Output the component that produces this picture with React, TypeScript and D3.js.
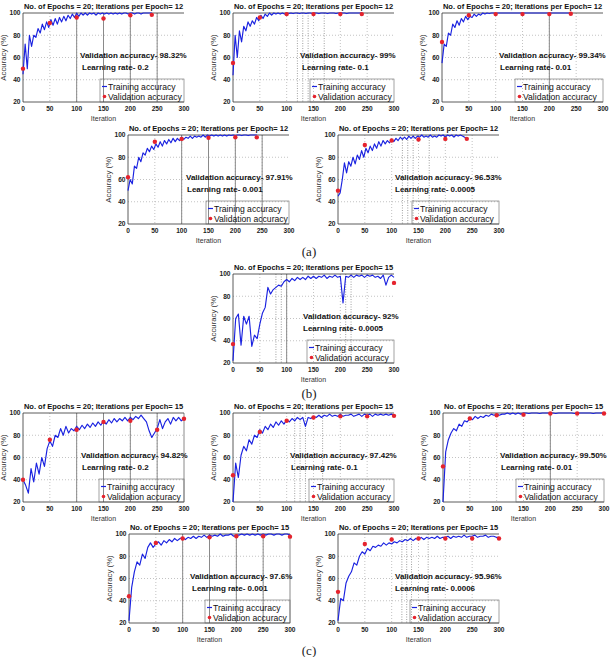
import React from 'react';
import * as d3 from 'd3';

const W = 615;
const H = 657;
const PW = 161;
const PH = 89;

// training accuracy, sampled every 4 iterations (12 iter/epoch runs) or every 5 (15 iter/epoch runs)
const trainA1 = [45, 72, 50, 80, 70, 80, 78, 86, 82, 90, 85, 92, 87, 94, 89, 95, 90, 96, 92, 97, 93, 98, 95, 99, 96, 100, 97, 100, 98, 100, 98, 100, 99, 100, 98, 100, 99, 100, 99, 100, 99, 100, 99, 100, 99, 100, 99, 100, 100, 99, 100, 100, 99, 100, 100, 99, 100, 100, 100, 100, 100];
const trainA2 = [44, 80, 60, 84, 74, 88, 84, 92, 88, 93, 90, 96, 93, 98, 95, 99, 97, 100, 98, 100, 99, 100, 99, 100, 99, 100, 99.5, 100, 99.5, 100, 100, 99.5, 100, 100, 99.5, 100, 100, 99.5, 100, 100, 99.5, 100, 100, 100, 99.5, 100, 100, 100, 99.5, 100, 100, 100, 100, 99.5, 100, 100, 100, 100, 100, 100, 100];
const trainA3 = [55, 72, 70, 82, 80, 90, 87, 93, 89, 95, 92, 97, 94, 97, 96, 99, 97, 99, 98, 100, 99, 100, 99.5, 100, 100, 99.5, 100, 100, 100, 100, 100, 100, 100, 100, 100, 100, 100, 100, 100, 100, 100, 100, 100, 100, 100, 100, 100, 100, 100, 100, 100, 100, 100, 100, 100, 100, 100, 100, 100, 100, 100];
const trainA4 = [50, 60, 56, 72, 70, 80, 76, 84, 82, 88, 85, 90, 87, 92, 89, 94, 90, 95, 92, 96, 93, 97, 94, 97, 95, 98, 96, 98, 97, 99, 97, 99, 98, 99, 98, 100, 98, 100, 99, 100, 99, 100, 99, 100, 99, 100, 99, 100, 99.5, 100, 99.5, 100, 100, 99.5, 100, 100, 99.5, 100, 100, 100, 100];
const trainA5 = [45, 48, 60, 75, 66, 76, 72, 80, 74, 82, 78, 86, 80, 88, 84, 90, 86, 92, 88, 94, 90, 95, 92, 95, 93, 96, 94, 97, 95, 98, 96, 98, 96, 99, 97, 99, 97, 99, 98, 100, 98, 99, 98, 100, 98, 99, 98, 100, 99, 100, 98, 100, 99, 100, 98, 100, 99, 100, 99, 98, 97];
const trainB = [22, 60, 64, 36, 62, 55, 62, 35, 45, 42, 55, 65, 70, 88, 82, 86, 88, 90, 89, 93, 95, 93, 96, 94, 97, 95, 97, 95, 98, 96, 98, 96, 98, 97, 99, 96, 98, 97, 99, 97, 98, 74, 98, 97, 99, 97, 99, 98, 99, 97, 99, 98, 99, 97, 98, 96, 99, 90, 97, 99, 97];
const trainC1 = [40, 35, 28, 50, 38, 55, 45, 60, 52, 68, 75, 70, 80, 78, 86, 80, 88, 82, 86, 84, 88, 85, 89, 86, 90, 87, 91, 88, 92, 89, 93, 90, 94, 91, 95, 92, 95, 93, 96, 93, 96, 94, 97, 95, 98, 95, 92, 84, 78, 82, 86, 94, 86, 92, 95, 90, 96, 93, 96, 93, 95];
const trainC2 = [20, 55, 42, 62, 70, 66, 76, 72, 80, 78, 85, 82, 88, 85, 90, 87, 92, 89, 93, 90, 94, 92, 95, 93, 96, 94, 96, 88, 96, 95, 97, 96, 98, 96, 98, 97, 99, 97, 98, 97, 99, 97, 98, 98, 99, 97, 98, 99, 97, 99, 98, 99, 97, 99, 98, 99, 98, 99, 98, 99, 98];
const trainC3 = [20, 65, 76, 82, 86, 84, 90, 88, 93, 92, 95, 94, 97, 95, 97, 96, 98, 97, 99, 98, 99, 98, 99, 99, 100, 99, 100, 99, 100, 99, 100, 100, 99.5, 100, 100, 100, 99.5, 100, 100, 100, 100, 100, 99.5, 100, 100, 100, 100, 100, 100, 99.5, 100, 100, 100, 100, 100, 100, 99.5, 100, 100, 100, 100];
const trainC4 = [22, 52, 66, 75, 72, 82, 78, 88, 92, 88, 91, 93, 90, 94, 92, 95, 93, 96, 94, 96, 97, 95, 97, 96, 98, 96, 98, 97, 99, 97, 99, 98, 99, 98, 100, 98, 99, 99, 100, 98, 99, 99, 100, 99, 100, 99, 100, 99, 100, 99, 100, 99, 100, 100, 99, 100, 100, 99, 100, 100, 99];
const trainC5 = [22, 42, 40, 56, 62, 66, 74, 72, 80, 84, 82, 87, 85, 89, 88, 90, 89, 92, 90, 92, 91, 93, 92, 94, 93, 95, 94, 96, 94, 96, 95, 97, 95, 97, 96, 97, 96, 98, 96, 97, 97, 98, 96, 98, 97, 98, 97, 99, 97, 98, 98, 99, 97, 98, 98, 99, 97, 98, 98, 97, 97];

// validation checkpoints
const valItersA = [0, 50, 100, 150, 200, 240];
const valItersB = [0, 300];
const valItersC = [0, 50, 100, 150, 200, 250, 300];
const valA1 = [50, 91, 96, 95, 98, 98.32];
const valA2 = [55, 96, 99, 99, 99, 99];
const valA3 = [74, 98, 99, 99, 99, 99.34];
const valA4 = [62, 94, 96.5, 97.5, 98, 97.91];
const valA5 = [50, 91, 95, 96, 96.5, 96.53];
const valB = [37, 92];
const valC1 = [40, 76, 85, 92, 93, 85, 94.82];
const valC2 = [44, 83, 93, 96, 97, 97, 97.42];
const valC3 = [52, 95, 98, 98.5, 99.5, 99.5, 99.5];
const valC4 = [44, 92, 96, 97, 98, 98, 97.6];
const valC5 = [48, 91, 95, 96, 96, 96, 95.96];

const xTicks = [0, 50, 100, 150, 200, 250, 300];
const yTicks = [20, 40, 60, 80, 100];
const gridX = [50, 100, 150, 200, 250];
const gridY = [40, 60, 80];

interface IPanel {
  left: number;
  top: number;
  perEpoch: number;
  train: number[];
  step: number;
  valIters: number[];
  val: number[];
  accText: string;
  lrText: string;
  annX: number;
  lrX: number;
  legX: number;
  solid: number[];
  dotted: number[];
}

const panels: IPanel[] = [
  { left: 23, top: 13, perEpoch: 12, train: trainA1, step: 4, valIters: valItersA, val: valA1, accText: 'Validation accuracy- 98.32%', lrText: 'Learning rate- 0.2', annX: 57, lrX: 59, legX: 85, solid: [100, 150, 200, 250], dotted: [] },
  { left: 233, top: 13, perEpoch: 12, train: trainA2, step: 4, valIters: valItersA, val: valA2, accText: 'Validation accuracy- 99%', lrText: 'Learning rate- 0.1', annX: 67, lrX: 69, legX: 85, solid: [], dotted: [120, 130, 140, 170] },
  { left: 442, top: 13, perEpoch: 12, train: trainA3, step: 4, valIters: valItersA, val: valA3, accText: 'Validation accuracy- 99.34%', lrText: 'Learning rate- 0.01', annX: 57, lrX: 58, legX: 81, solid: [200], dotted: [] },
  { left: 128, top: 135, perEpoch: 12, train: trainA4, step: 4, valIters: valItersA, val: valA4, accText: 'Validation accuracy- 97.91%', lrText: 'Learning rate- 0.001', annX: 58, lrX: 59, legX: 86, solid: [100, 150, 200, 250], dotted: [] },
  { left: 338, top: 135, perEpoch: 12, train: trainA5, step: 4, valIters: valItersA, val: valA5, accText: 'Validation accuracy- 96.53%', lrText: 'Learning rate- 0.0005', annX: 57, lrX: 57, legX: 82, solid: [], dotted: [120, 130, 140, 170] },
  { left: 233, top: 274, perEpoch: 15, train: trainB, step: 5, valIters: valItersB, val: valB, accText: 'Validation accuracy- 92%', lrText: 'Learning rate- 0.0005', annX: 70, lrX: 70, legX: 82, solid: [100], dotted: [80, 90, 210, 220] },
  { left: 23, top: 413, perEpoch: 15, train: trainC1, step: 5, valIters: valItersC, val: valC1, accText: 'Validation accuracy- 94.82%', lrText: 'Learning rate- 0.2', annX: 58, lrX: 59, legX: 84, solid: [100, 150, 200, 250, 300], dotted: [] },
  { left: 233, top: 413, perEpoch: 15, train: trainC2, step: 5, valIters: valItersC, val: valC2, accText: 'Validation accuracy- 97.42%', lrText: 'Learning rate- 0.1', annX: 57, lrX: 58, legX: 84, solid: [], dotted: [115, 125, 135, 167] },
  { left: 443, top: 413, perEpoch: 15, train: trainC3, step: 5, valIters: valItersC, val: valC3, accText: 'Validation accuracy- 99.50%', lrText: 'Learning rate- 0.01', annX: 57, lrX: 58, legX: 81, solid: [200], dotted: [] },
  { left: 129, top: 534, perEpoch: 15, train: trainC4, step: 5, valIters: valItersC, val: valC4, accText: 'Validation accuracy- 97.6%', lrText: 'Learning rate- 0.001', annX: 61, lrX: 63, legX: 84, solid: [100, 150, 200, 250, 300], dotted: [] },
  { left: 338, top: 534, perEpoch: 15, train: trainC5, step: 5, valIters: valItersC, val: valC5, accText: 'Validation accuracy- 95.96%', lrText: 'Learning rate- 0.0006', annX: 57, lrX: 57, legX: 80, solid: [], dotted: [119, 128, 137, 168] },
];

const captions = [
  { text: '(a)', y: 256 },
  { text: '(b)', y: 398 },
  { text: '(c)', y: 655 },
];

const FONT = '"Liberation Sans", Arial, sans-serif';
const BLUE = '#1a22e0';
const RED = '#e5232d';

const x = d3.scaleLinear().domain([0, 300]).range([0, PW]);
const y = d3.scaleLinear().domain([20, 100]).range([PH, 0]);

const Panel: React.FC<{ p: IPanel }> = ({ p }) => {
  const line = d3
    .line<number>()
    .x((_, i) => x(i * p.step))
    .y((d) => y(d));

  return (
    <g transform={`translate(${p.left},${p.top})`} fontFamily={FONT}>
      {gridX.map((t) => (
        <line key={'gx' + t} x1={x(t)} x2={x(t)} y1={0} y2={PH} stroke="#9a9a9a" strokeWidth={0.6} strokeDasharray="1,2" />
      ))}
      {gridY.map((t) => (
        <line key={'gy' + t} x1={0} x2={PW} y1={y(t)} y2={y(t)} stroke="#9a9a9a" strokeWidth={0.6} strokeDasharray="1,2" />
      ))}
      {p.dotted.map((t) => (
        <line key={'d' + t} x1={x(t)} x2={x(t)} y1={0} y2={PH} stroke="#777" strokeWidth={0.7} strokeDasharray="1,1.5" />
      ))}
      {p.solid.map((t) => (
        <line key={'s' + t} x1={x(t)} x2={x(t)} y1={0} y2={PH} stroke="#8a8a8a" strokeWidth={1} />
      ))}

      {/* axes frame */}
      <line x1={0} x2={PW} y1={0} y2={0} stroke="#333" strokeWidth={0.8} />
      <line x1={0} x2={0} y1={0} y2={PH} stroke="#333" strokeWidth={0.8} />
      <line x1={0} x2={PW} y1={PH} y2={PH} stroke="#333" strokeWidth={0.8} />

      <path d={line(p.train) || ''} fill="none" stroke={BLUE} strokeWidth={1.15} strokeLinejoin="round" />
      {p.val.map((v, i) => (
        <circle key={'v' + i} cx={x(p.valIters[i])} cy={y(v)} r={2.2} fill={RED} />
      ))}

      {xTicks.map((t) => (
        <text key={'xt' + t} x={x(t)} y={PH + 8.5} fontSize={6.6} fontWeight="bold" textAnchor="middle" fill="#222">
          {t}
        </text>
      ))}
      {yTicks.map((t) => (
        <text key={'yt' + t} x={-2.5} y={y(t) + 2.3} fontSize={6.6} fontWeight="bold" textAnchor="end" fill="#222">
          {t}
        </text>
      ))}
      <text x={PW / 2} y={PH + 18.5} fontSize={7} textAnchor="middle" fill="#333">
        Iteration
      </text>
      <text transform={`translate(-17,${PH / 2}) rotate(-90)`} fontSize={7.8} textAnchor="middle" fill="#333">
        Accuracy (%)
      </text>
      <text x={PW / 2} y={-4.5} fontSize={7.5} fontWeight="bold" textAnchor="middle" fill="#111">
        {`No. of Epochs = 20; Iterations per Epoch= ${p.perEpoch}`}
      </text>

      <text x={p.annX} y={44.5} fontSize={8} fontWeight="bold" fill="#111">
        {p.accText}
      </text>
      <text x={p.lrX} y={57} fontSize={8} fontWeight="bold" fill="#111">
        {p.lrText}
      </text>

      {/* legend */}
      <rect x={p.legX - 8} y={66} width={PW - p.legX + 8} height={PH - 66} fill="none" stroke="#666" strokeWidth={0.6} />
      <line x1={p.legX - 6} x2={p.legX - 1} y1={73.5} y2={73.5} stroke={BLUE} strokeWidth={1.2} />
      <text x={p.legX} y={76.5} fontSize={8.6} fill="#111">
        Training accuracy
      </text>
      <circle cx={p.legX - 3.5} cy={83.5} r={1.8} fill={RED} />
      <text x={p.legX} y={86.5} fontSize={8.6} fill="#111">
        Validation accuracy
      </text>
    </g>
  );
};

const App: React.FC = () => {
  return (
    <svg
      width={W}
      height={H}
      style={{ position: 'absolute', left: 0, top: 0, display: 'block', background: '#fff' }}
    >
      <rect width={W} height={H} fill="#fff" />
      {panels.map((p, i) => (
        <Panel key={i} p={p} />
      ))}
      {captions.map((c) => (
        <text key={c.text} x={309} y={c.y} fontSize={13} fontFamily='"Liberation Serif", "Times New Roman", serif' textAnchor="middle" fill="#222">
          {c.text}
        </text>
      ))}
    </svg>
  );
};

export default App;
